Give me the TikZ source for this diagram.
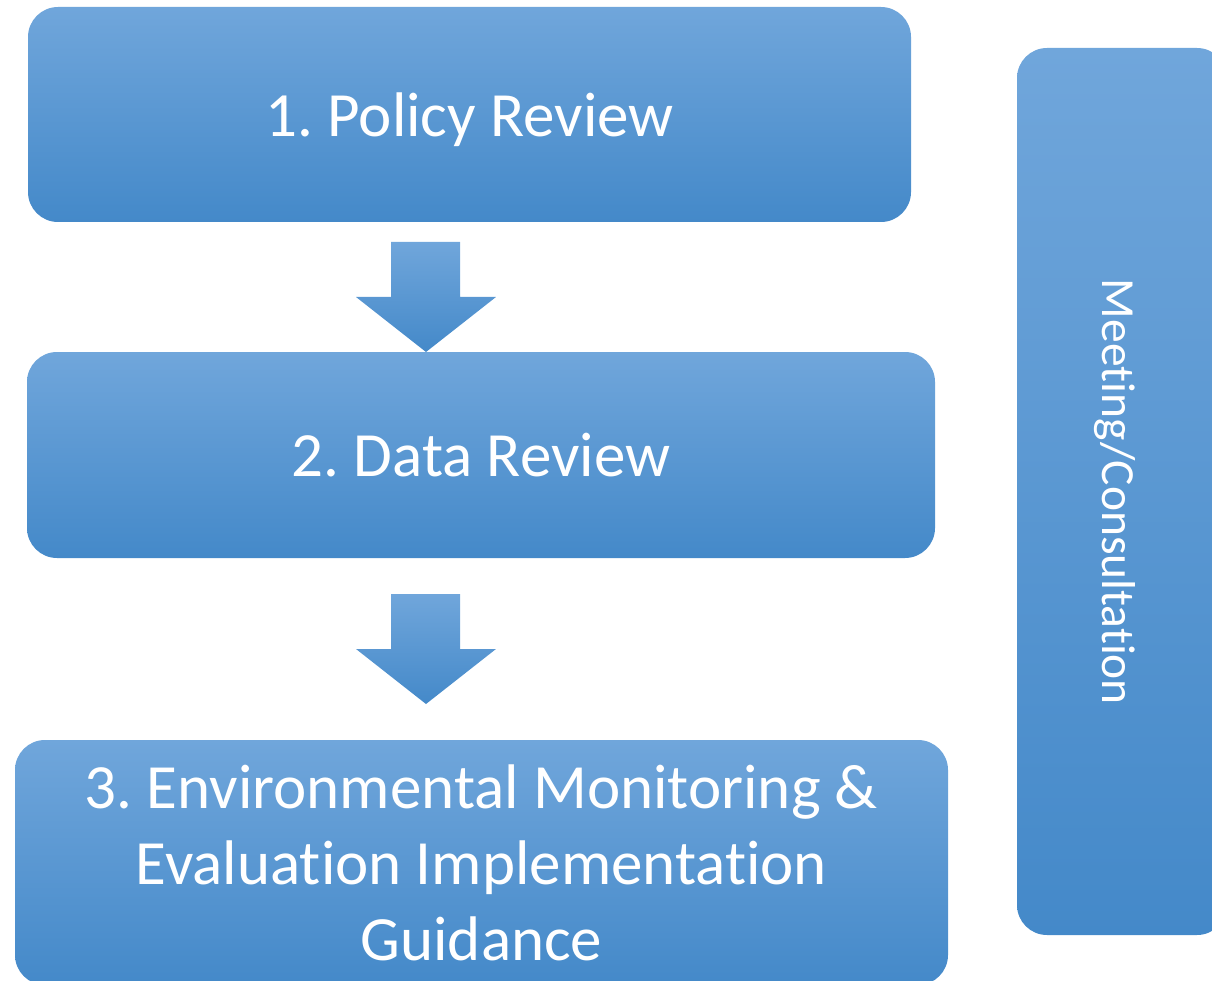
\documentclass[tikz,border=0pt]{standalone}
\usepackage{fontspec}
\setmainfont{Carlito}[Ligatures=NoCommon]
\frenchspacing
\usetikzlibrary{calc}
\definecolor{stepTop}{RGB}{112,166,219}
\definecolor{stepMid}{RGB}{85,155,221}
\definecolor{stepBot}{RGB}{68,137,201}
\tikzset{
  stepbox/.style={
    rounded corners=30pt,
    top color=stepTop,
    middle color=stepMid,
    bottom color=stepBot,
    text=white,
    align=center,
    text depth=0pt,
    outer sep=0pt,
    font=\fontsize{63}{76}\selectfont,
  },
  side label/.style={
    text=white,
    font=\fontsize{47.5}{57}\selectfont,
    rotate=-90,
    anchor=base,
    inner sep=0pt,
  },
  pics/down arrow/.style={
    code={
      \shade[top color=stepTop, middle color=stepMid, bottom color=stepBot]
        (-35,0) -- (34,0) -- (34,55) -- (70,55) -- (0,110)
        -- (-70,55) -- (-35,55) -- cycle;
    }
  },
}

\begin{document}
\begin{tikzpicture}[x=1pt,y=-1pt]
        \useasboundingbox (0,0) rectangle (1212,981);

        \node [stepbox, minimum width=883pt, minimum height=215pt] (policy) at (469.5,114.5) {1. Policy Review};
        \node [stepbox, minimum width=908pt, minimum height=206pt] (data) at (481,455) {2. Data Review};
        \node [stepbox, minimum width=933pt, minimum height=245pt] (guidance) at (481.5,862.5)
            {3. Environmental Monitoring \&\\Evaluation Implementation\\Guidance};

        \pic at ($(policy.south -| 426,0)+(0,20)$) {down arrow};
        \pic at ($(data.south -| 426,0)+(0,36)$) {down arrow};

        \node [stepbox, minimum width=210pt, minimum height=887pt] (meeting) at (1122,491.5) {};
        \node [side label] (meetlabel) at (1102,492) {Meeting/Consultation};
    \end{tikzpicture}
\end{document}
